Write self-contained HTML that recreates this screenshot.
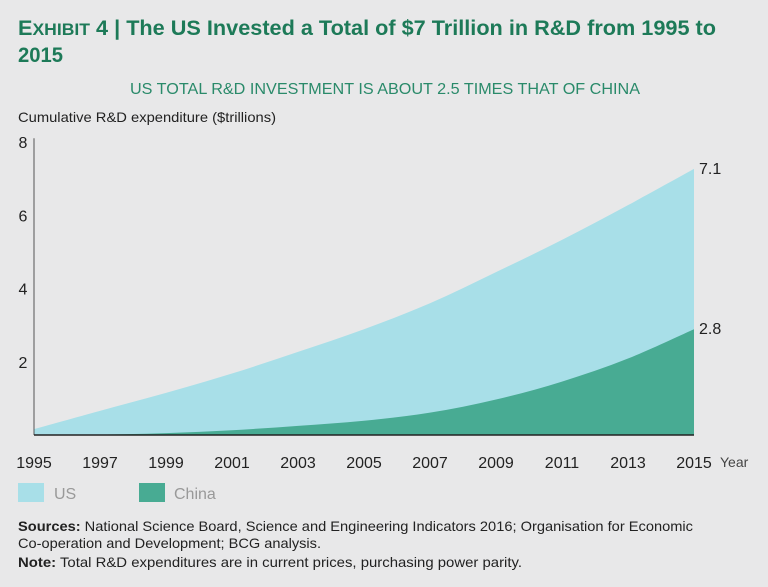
<!DOCTYPE html>
<html><head><meta charset="utf-8"><style>
html,body{margin:0;padding:0;background:#e8e8e9;}
svg{display:block;font-family:"Liberation Sans Narrow","Liberation Sans",sans-serif;}
</style></head><body>
<svg id="chart" width="768" height="587" viewBox="0 0 768 587">
<rect width="768" height="587" fill="#e8e8e9"/>
<text x="18" y="35" font-size="21" font-weight="bold" fill="#1d7a58" textLength="698" lengthAdjust="spacingAndGlyphs">E<tspan font-size="17">XHIBIT</tspan> 4 | The US Invested a Total of $7 Trillion in R&amp;D from 1995 to</text>
<text x="18" y="62" font-size="21" font-weight="bold" fill="#1d7a58" textLength="45" lengthAdjust="spacingAndGlyphs">2015</text>
<text x="130" y="94" font-size="16" fill="#2a8a6a" textLength="510" lengthAdjust="spacingAndGlyphs">US TOTAL R&amp;D INVESTMENT IS ABOUT 2.5 TIMES THAT OF CHINA</text>
<text x="18" y="122" font-size="14" fill="#222" textLength="258" lengthAdjust="spacingAndGlyphs">Cumulative R&amp;D expenditure ($trillions)</text>
<g id="plot"></g>
<rect x="18" y="483" width="26" height="19" fill="#a8dfe8"/>
<text x="54" y="499" font-size="16" fill="#999">US</text>
<rect x="139" y="483" width="26" height="19" fill="#48ab93"/>
<text x="174" y="499" font-size="16" fill="#999">China</text>
<text x="18" y="531" font-size="14" fill="#222" textLength="675" lengthAdjust="spacingAndGlyphs"><tspan font-weight="bold">Sources:</tspan> National Science Board, Science and Engineering Indicators 2016; Organisation for Economic</text>
<text x="18" y="548" font-size="14" fill="#222" textLength="303" lengthAdjust="spacingAndGlyphs">Co-operation and Development; BCG analysis.</text>
<text x="18" y="567" font-size="14" fill="#222" textLength="504" lengthAdjust="spacingAndGlyphs"><tspan font-weight="bold">Note:</tspan> Total R&amp;D expenditures are in current prices, purchasing power parity.</text>
</svg>
<script>
const years = [1995,1997,1999,2001,2003,2005,2007,2009,2011,2013,2015];
const usValues = [0.16,0.66,1.15,1.68,2.27,2.89,3.6,4.45,5.33,6.28,7.27];
const chinaValues = [0,0.01,0.05,0.13,0.25,0.39,0.61,0.97,1.46,2.09,2.89];
const yTicks = [2,4,6,8];
const endLabels = ["7.1","2.8"];

const NS = "http://www.w3.org/2000/svg";
const g = document.getElementById('plot');
const x = yr => 34 + (yr-1995)*(694-34)/20;
const y = v => 435 - v*36.6;
function mk(tag, attrs){const e=document.createElementNS(NS,tag);for(const k in attrs)e.setAttribute(k,attrs[k]);g.appendChild(e);return e;}
function smooth(vals){
  let d='';
  const pts = years.map((yr,i)=>[x(yr),y(vals[i])]);
  d += 'M'+pts[0][0]+','+pts[0][1];
  for(let i=0;i<pts.length-1;i++){
    const p0=pts[Math.max(i-1,0)],p1=pts[i],p2=pts[i+1],p3=pts[Math.min(i+2,pts.length-1)];
    const c1=[p1[0]+(p2[0]-p0[0])/6,p1[1]+(p2[1]-p0[1])/6];
    const c2=[p2[0]-(p3[0]-p1[0])/6,p2[1]-(p3[1]-p1[1])/6];
    d+=' C'+c1+' '+c2+' '+p2;
  }
  return d;
}
const base = ' L'+x(2015)+','+y(0)+' L'+x(1995)+','+y(0)+' Z';
const us = mk('path',{d:smooth(usValues)+base,fill:'#a8dfe8'});


const cn = mk('path',{d:smooth(chinaValues)+base,fill:'#48ab93'});


const ax = mk('line',{x1:34,y1:y(8)-4,x2:34,y2:y(0),stroke:'#555','stroke-width':1});


const bx = mk('line',{x1:34,y1:y(0),x2:x(2015),y2:y(0),stroke:'#222','stroke-width':1.5});


yTicks.forEach(t=>{
  const e=mk('text',{x:23,y:y(t)+6,'font-size':16,'text-anchor':'middle',fill:'#222'});
  e.textContent=t;
  
  
});
years.forEach(yr=>{
  const e=mk('text',{x:x(yr),y:468,'font-size':16,'text-anchor':'middle',fill:'#222'});
  e.textContent=yr;
  
  
});
const yl=mk('text',{x:720,y:467,'font-size':14,fill:'#444'});
yl.textContent='Year';


[usValues,chinaValues].forEach((vals,i)=>{
  const e=mk('text',{x:x(2015)+5,y:y(vals[vals.length-1])+5,'font-size':16,fill:'#222'});
  e.textContent=endLabels[i];
  
  
});
</script>
</body></html>
